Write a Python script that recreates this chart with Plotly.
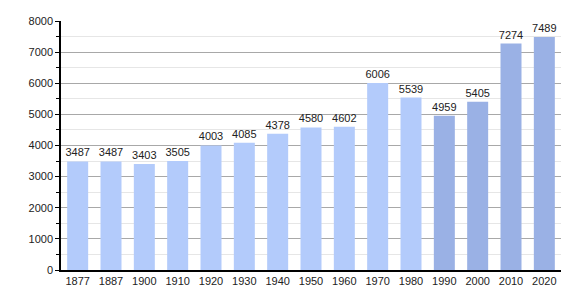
import plotly.graph_objects as go

years = ["1877", "1887", "1900", "1910", "1920", "1930", "1940", "1950", "1960", "1970", "1980", "1990", "2000", "2010", "2020"]
population = [3487, 3487, 3403, 3505, 4003, 4085, 4378, 4580, 4602, 6006, 5539, 4959, 5405, 7274, 7489]
light_color = "#b3cbfb"
dark_color = "#9ab1e5"
colors = [light_color if int(y) < 1990 else dark_color for y in years]

fig = go.Figure(go.Bar(
    x=years, y=population, marker=dict(color=colors, line=dict(width=0)),
    text=[str(v) for v in population], textposition="outside",
    textfont=dict(family="Liberation Sans, Arial, sans-serif", size=11, color="#222"),
    constraintext="none", cliponaxis=False, width=0.63,
))

fig.update_layout(
    width=580, height=300,
    margin=dict(l=61, r=19, t=21, b=30),
    paper_bgcolor="white", plot_bgcolor="white",
    font=dict(family="Liberation Sans, Arial, sans-serif", size=11, color="#222"),
    showlegend=False,
    bargap=0.37,
)
fig.update_xaxes(
    type="category", showline=True, linecolor="black", linewidth=1.5,
    ticks="", showgrid=False, tickfont=dict(size=11), ticklabelstandoff=0,
)
fig.update_yaxes(
    range=[0, 8000], dtick=1000, showline=True, linecolor="black", linewidth=1.5,
    ticks="outside", ticklen=4, tickcolor="black", showgrid=True,
    gridcolor="#a8a8a8", gridwidth=1, zeroline=False, tickfont=dict(size=11),
    minor=dict(dtick=500, ticks="outside", ticklen=3, tickcolor="black",
               showgrid=True, gridcolor="#e6e6e6", gridwidth=1),
)

fig.write_html("out.html")
